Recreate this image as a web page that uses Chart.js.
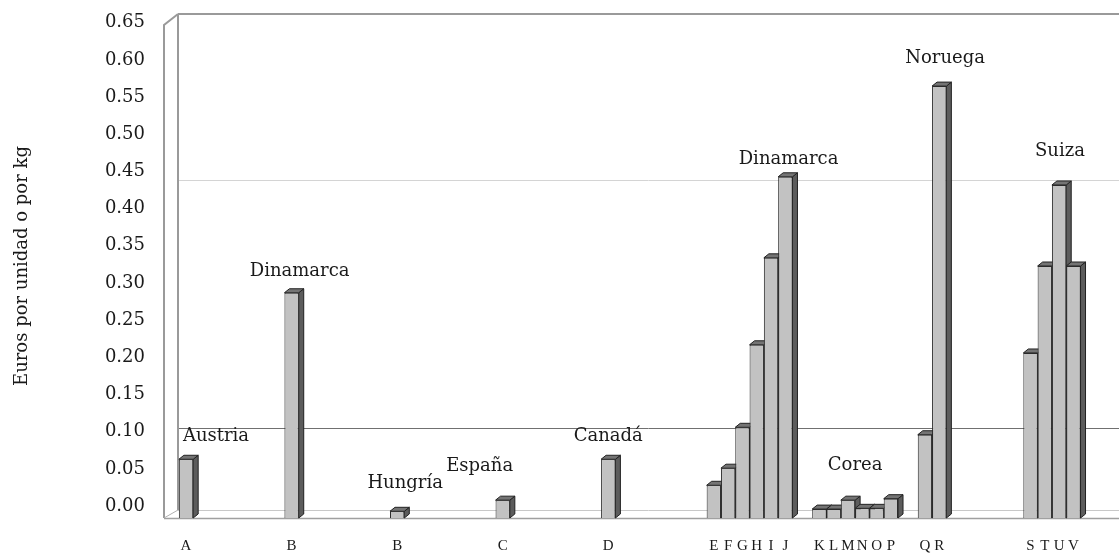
<!DOCTYPE html>
<html><head><meta charset="utf-8">
<script src="https://cdn.jsdelivr.net/npm/chart.js@4.4.0/dist/chart.umd.min.js"></script>
<style>html,body{margin:0;padding:0;background:#fff}canvas{display:block}</style>
</head><body>
<canvas id="c" width="1119" height="554"></canvas>
<script>
// categories (country groups)
const countries = ['Austria','Dinamarca','Hungría','España','Canadá','Dinamarca','Corea','Noruega','Suiza'];
// series values (euros per unit or per kg), one slot per bar within each group
const series1 = [0.079, 0.303, 0.009, 0.024, 0.079, 0.044, 0.012, 0.112, 0.222];
const series2 = [null, null, null, null, null, 0.067, 0.012, 0.581, 0.339];
const series3 = [null, null, null, null, null, 0.122, 0.024, null, 0.448];
const series4 = [null, null, null, null, null, 0.233, 0.013, null, 0.339];
const series5 = [null, null, null, null, null, 0.350, 0.013, null, null];
const series6 = [null, null, null, null, null, 0.459, 0.026, null, null];
// bar letters (tick labels under each bar)
const letters1 = ['A','B','B','C','D','E','K','Q','S'];
const letters2 = ['','','','','','F','L','R','T'];
const letters3 = ['','','','','','G','M','','U'];
const letters4 = ['','','','','','H','N','','V'];
const letters5 = ['','','','','','I','O','',''];
const letters6 = ['','','','','','J','P','',''];
const yTickStep = 0.05;
const yTitle = 'Euros por unidad o por kg';

const allSeries = [series1, series2, series3, series4, series5, series6];
const allLetters = [letters1, letters2, letters3, letters4, letters5, letters6];

const SERIF = '"DejaVu Serif", serif';

const threeD = {
  id: 'threeD',
  beforeDatasetsDraw(chart, args, opts) {
    const ctx = chart.ctx, a = chart.chartArea, y = chart.scales.y;
    const L = a.left, T = a.top, B = a.bottom, R = chart.width;
    const wx = L + 9, ox = L - 5, fb = B - 8, ot = T + 11;
    ctx.save();
    // wall gridlines
    ctx.lineWidth = 1;
    opts.wallLines.forEach((wl) => {
      const py = Math.round(y.getPixelForValue(wl.v)) + 0.5;
      ctx.strokeStyle = wl.c;
      ctx.beginPath(); ctx.moveTo(wx, py); ctx.lineTo(R, py); ctx.stroke();
    });
    // floor back line
    ctx.strokeStyle = '#c8c8c8';
    ctx.beginPath(); ctx.moveTo(wx, fb + 0.5); ctx.lineTo(R, fb + 0.5); ctx.stroke();
    // back wall top + left edge
    ctx.strokeStyle = '#9a9a9a';
    ctx.lineWidth = 2;
    ctx.beginPath(); ctx.moveTo(wx, T); ctx.lineTo(R, T); ctx.stroke();
    ctx.beginPath(); ctx.moveTo(wx, T); ctx.lineTo(wx, fb); ctx.stroke();
    // side wall
    ctx.beginPath(); ctx.moveTo(ox, B); ctx.lineTo(ox, ot); ctx.lineTo(wx, T); ctx.stroke();
    ctx.lineWidth = 1;
    ctx.strokeStyle = '#b0b0b0';
    ctx.beginPath(); ctx.moveTo(ox, B); ctx.lineTo(wx, fb); ctx.stroke();
    // floor front
    ctx.strokeStyle = '#a0a0a0';
    ctx.lineWidth = 1.5;
    ctx.beginPath(); ctx.moveTo(ox, B + 0.5); ctx.lineTo(R, B + 0.5); ctx.stroke();

    // 3D side & top faces of bars
    const dx = opts.depthX, dy = opts.depthY;
    ctx.lineWidth = 1;
    ctx.strokeStyle = '#222';
    chart.data.datasets.forEach((ds, di) => {
      const meta = chart.getDatasetMeta(di);
      meta.data.forEach((el, i) => {
        if (ds.data[i] == null) return;
        const p = el.getProps(['x', 'y', 'base', 'width'], true);
        const x0 = p.x - p.width / 2, x1 = p.x + p.width / 2;
        ctx.fillStyle = '#5c5c5c';
        ctx.beginPath();
        ctx.moveTo(x1, p.y); ctx.lineTo(x1 + dx, p.y - dy); ctx.lineTo(x1 + dx, p.base - dy); ctx.lineTo(x1, p.base);
        ctx.closePath(); ctx.fill(); ctx.stroke();
        ctx.fillStyle = '#747474';
        ctx.beginPath();
        ctx.moveTo(x0, p.y); ctx.lineTo(x1, p.y); ctx.lineTo(x1 + dx, p.y - dy); ctx.lineTo(x0 + dx, p.y - dy);
        ctx.closePath(); ctx.fill(); ctx.stroke();
      });
    });
    ctx.restore();
  },
  afterDatasetsDraw(chart, args, opts) {
    const ctx = chart.ctx;
    ctx.save();
    ctx.fillStyle = '#1a1a1a';
    ctx.textAlign = 'center';
    ctx.textBaseline = 'middle';
    // letters under bars
    ctx.font = '15px "Liberation Serif", serif';
    const ly = chart.chartArea.bottom + 28;
    chart.data.datasets.forEach((ds, di) => {
      const meta = chart.getDatasetMeta(di);
      meta.data.forEach((el, i) => {
        if (ds.data[i] == null) return;
        ctx.fillText(allLetters[di][i], el.x, ly);
      });
    });
    // country labels above groups
    ctx.font = '18px ' + SERIF;
    chart.data.labels.forEach((name, i) => {
      let minX = Infinity, maxX = -Infinity, top = Infinity;
      chart.data.datasets.forEach((ds, di) => {
        if (ds.data[i] == null) return;
        const el = chart.getDatasetMeta(di).data[i];
        minX = Math.min(minX, el.x - el.width / 2);
        maxX = Math.max(maxX, el.x + el.width / 2);
        top = Math.min(top, el.y);
      });
      ctx.fillText(name, (minX + maxX) / 2 + opts.labelDx[i], top - opts.labelDy[i]);
    });
    ctx.restore();
  }
};

new Chart(document.getElementById('c'), {
  type: 'bar',
  data: {
    labels: countries,
    datasets: allSeries.map((s) => ({
      data: s,
      backgroundColor: '#c2c2c2',
      borderColor: '#2a2a2a',
      borderWidth: 1,
      barPercentage: 1,
      categoryPercentage: 0.813
    }))
  },
  options: {
    responsive: false,
    animation: false,
    devicePixelRatio: 1,
    layout: { padding: { top: 14, bottom: 36, left: 0, right: 0 } },
    plugins: {
      legend: { display: false },
      tooltip: { enabled: false },
      threeD: {
        depthX: 5, depthY: 4,
        wallLines: [{ v: 0.121, c: '#707070' }, { v: 0.455, c: '#d4d4d4' }],
        labelDx: [30, 8, 8, -23, 0, 39, 0, 13, 8],
        labelDy: [23, 21, 28, 34, 23, 17, 33, 28, 34]
      }
    },
    scales: {
      x: { type: 'category', display: false, offset: true },
      y: {
        min: 0, max: 0.678,
        grid: { display: false, drawTicks: false },
        border: { display: false },
        ticks: {
          stepSize: yTickStep, includeBounds: false, labelOffset: -12, padding: 24,
          color: '#1a1a1a', font: { family: '"DejaVu Serif"', size: 18 },
          callback: (v) => Number(v).toFixed(2)
        },
        title: {
          display: true, text: yTitle, color: '#1a1a1a',
          font: { family: '"DejaVu Serif"', size: 18 },
          padding: { top: 12, bottom: 0 }
        },
        afterFit(s) { s.width = 169; s.paddingTop = 0; s.paddingBottom = 0; }
      }
    }
  },
  plugins: [threeD]
});
</script>
</body></html>
